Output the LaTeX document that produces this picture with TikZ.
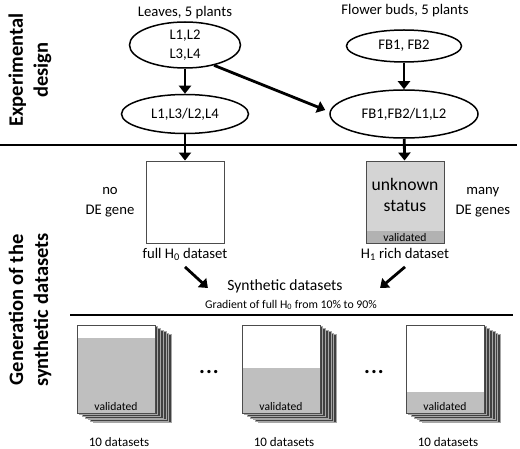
\documentclass[tikz,border=0pt]{standalone}
\usepackage{fontspec}
\setmainfont{Carlito}
\usetikzlibrary{positioning,shapes.geometric,arrows.meta}

\begin{document}
\begin{tikzpicture}[
    x=1pt, y=-1pt,
    sample/.style={draw,ellipse,line width=1.5pt,align=center,inner sep=0pt,font=\fontsize{14.7}{19.5}\selectfont},
    dataset/.style={draw=black!70,line width=0.9pt,minimum width=78pt,minimum height=82pt,inner sep=0pt},
    link/.style={line width=2.8pt,-{Triangle[width=12pt,length=8pt]}},
    caption/.style={font=\fontsize{14.7}{19.5}\selectfont,align=center},
    section/.style={rotate=90,align=center,font=\bfseries\fontsize{20.5}{25}\selectfont},
    small/.style={font=\fontsize{11.6}{13}\selectfont}
]
    \useasboundingbox (0,0) rectangle (520,449);

    % Experimental design
    \node[section] (design) at (30,70) {Experimental\\design};
    \node[sample,minimum width=111pt,minimum height=46pt] (L1234) at (185,45) {L1,L2\\L3,L4};
    \node[sample,minimum width=115pt,minimum height=32pt] (FB12) at (404,46) {FB1, FB2};
    \node[sample,minimum width=127pt,minimum height=39pt] (L13) at (185,114) {L1,L3/L2,L4};
    \node[sample,minimum width=148pt,minimum height=48pt] (FBL) at (404,114) {FB1,FB2/L1,L2};
    \node[caption] (leaves) [above=-1pt of L1234] {Leaves, 5 plants};
    \node[caption] (buds) at (405,11) {Flower buds, 5 plants};

    \draw[link] (L1234) -- (L13);
    \draw[link] (FB12) -- (FBL);
    \draw[link] (L1234.-35) -- ([xshift=-4pt,yshift=4pt]FBL.west);

    \draw[line width=2pt] (0,145) -- (517,145);

    % Generation of the synthetic datasets
    \node[section] (generation) at (30,310) {Generation of the\\synthetic datasets};
    \node[dataset] (H0) at (185,202) {};
    \node[dataset,fill=black!17,path picture={
        \fill[black!30] (path picture bounding box.south west) rectangle ([yshift=12pt]path picture bounding box.south east);}] (H1) at (405,202) {};
    \node[font=\fontsize{17.6}{20.5}\selectfont,align=center] (status) at ([yshift=7pt]H1.center) {unknown\\status};
    \node[small] (valH1) at ([yshift=6pt]H1.south) {validated};
    \node[caption,inner sep=0pt] (noDE) [left=11pt of H0] {no\\DE gene};
    \node[caption,inner sep=0pt] (manyDE) [right=11pt of H1] {many\\DE genes};
    \node[caption] (fullH0) [below=1pt of H0] {full H\textsubscript{0} dataset};
    \node[caption] (richH1) [below=1pt of H1] {H\textsubscript{1} rich dataset};
    \node[caption,font=\fontsize{15.6}{18}\selectfont] (synth) at (285,286) {Synthetic datasets};
    \node[font=\fontsize{11.8}{13}\selectfont] (gradient) at (291,305) {Gradient of full H\textsubscript{0} from 10\% to 90\%};

    \draw[link] (L13) -- (H0);
    \draw[link] (FBL) -- (H1);
    \draw[link] ([yshift=-3pt]fullH0.south) -- ([xshift=-16pt,yshift=-2pt]synth.west);
    \draw[link] ([yshift=-3pt]richH1.south) -- ([xshift=34pt,yshift=-2pt]synth.east);

    \draw[line width=1.5pt] (70,315) -- (513,315);

    % stacks of 10 datasets
    \foreach \sx/\gy/\nm in {77/338/a,242/368/b,406/392/c}{
        \foreach \k in {6,...,1}
            \draw[fill=black!75,draw=black!35,line width=0.5pt] (\sx+2.7*\k,325+1.6*\k) rectangle +(78,88);
        \fill[white] (\sx,325) rectangle (\sx+78,\gy);
        \fill[black!25] (\sx,\gy) rectangle (\sx+78,413);
        \draw[black!70,line width=0.8pt] (\sx,325) rectangle (\sx+78,413);
        \node[small] (val\nm) at (\sx+39,407) {validated};
        \node[caption,font=\fontsize{13}{15}\selectfont] (ten\nm) at (\sx+42,442) {10 datasets};
    }
    \node[font=\bfseries\fontsize{22}{22}\selectfont] (dotsA) at (209,372) {.\hspace{1pt}.\hspace{1pt}.};
    \node[font=\bfseries\fontsize{22}{22}\selectfont] (dotsB) at (374,372) {.\hspace{1pt}.\hspace{1pt}.};
\end{tikzpicture}
\end{document}
